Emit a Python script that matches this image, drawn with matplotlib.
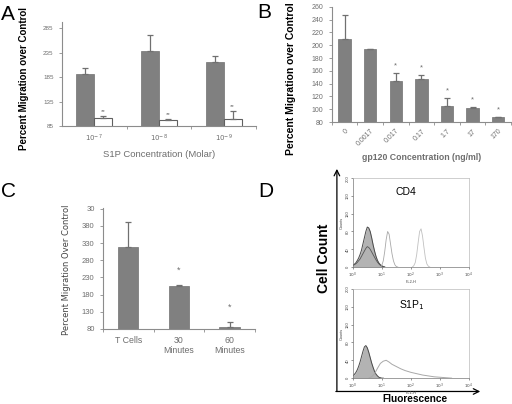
import numpy as np
import matplotlib.pyplot as plt

plt.rcParams['font.family'] = ['Liberation Sans', 'DejaVu Sans']

# ---- panel A data
a_conc = ['$10^{-7}$', '$10^{-8}$', '$10^{-9}$']
a_dark = [192, 238, 215]
a_dark_err = [12, 33, 13]
a_white = [102, 98, 100]
a_white_err = [3, 2, 15]
a_ticks = [85, 135, 185, 235, 285]

# ---- panel B data
b_conc = ['0', '0.0017', '0.017', '0.17', '1.7', '17', '170']
b_vals = [209, 194, 144, 147, 105, 102, 88]
b_err = [39, 0, 12, 6, 12, 1, 0]
b_star = [False, False, True, True, True, True, True]

# ---- panel C data
c_groups = ['T Cells', '30\nMinutes', '60\nMinutes']
c_vals = [318, 204, 85]
c_err = [74, 3, 14]
c_star = [False, True, True]
c_ticks = [80, 130, 180, 230, 280, 330, 380, 430]
c_ticklabels = ['80', '130', '180', '230', '280', '330', '380', '30']

# ---- panel D data (log10 fluorescence vs counts)
cd4_iso_x = [0.0, 0.05, 0.1, 0.15, 0.2, 0.25, 0.3, 0.35, 0.4, 0.45, 0.5, 0.55,
             0.6, 0.65, 0.7, 0.75, 0.8, 0.85, 0.9, 0.95, 1.0, 1.05, 1.1]
cd4_iso_y = [4, 6, 9, 14, 20, 28, 38, 52, 66, 80, 90, 88,
             80, 66, 50, 36, 24, 15, 9, 5, 3, 1, 0]
cd4_low_y = [3, 5, 7, 10, 14, 18, 24, 30, 36, 42, 46, 44,
             40, 34, 28, 22, 16, 11, 7, 4, 2, 1, 0]
cd4_p1_x = [0.95, 1.0, 1.05, 1.1, 1.15, 1.2, 1.25, 1.3, 1.35, 1.4, 1.45, 1.5, 1.55]
cd4_p1_y = [0, 4, 14, 35, 62, 80, 74, 52, 30, 14, 5, 1, 0]
cd4_p2_x = [2.05, 2.1, 2.15, 2.2, 2.25, 2.3, 2.35, 2.4, 2.45, 2.5, 2.55, 2.6, 2.65]
cd4_p2_y = [0, 3, 10, 28, 55, 80, 86, 70, 44, 20, 7, 2, 0]

s1p_iso_x = [0.0, 0.05, 0.1, 0.15, 0.2, 0.25, 0.3, 0.35, 0.4, 0.45, 0.5,
             0.55, 0.6, 0.65, 0.7, 0.75, 0.8, 0.85, 0.9, 0.95, 1.0, 1.05]
s1p_iso_y = [5, 8, 12, 18, 26, 36, 48, 60, 70, 73, 68,
             58, 46, 34, 24, 15, 9, 5, 2, 1, 0, 0]
s1p_pos_x = [0.55, 0.65, 0.75, 0.85, 0.95, 1.05, 1.15, 1.25, 1.35, 1.5,
             1.65, 1.8, 2.0, 2.2, 2.4, 2.6, 2.8, 3.0, 3.2, 3.4]
s1p_pos_y = [0, 3, 10, 22, 33, 38, 40, 36, 31, 26,
             21, 17, 13, 10, 7, 5, 3, 2, 1, 0]

BAR = '#808080'
AXC = '#8c8c8c'
TXT = '#6e6e6e'


def style_bar_axes(ax):
    for s in ['top', 'right']:
        ax.spines[s].set_visible(False)
    for s in ['left', 'bottom']:
        ax.spines[s].set_color(AXC)
        ax.spines[s].set_linewidth(0.8)
    ax.tick_params(axis='y', colors=AXC, labelcolor=TXT, length=2.5, width=0.6)
    ax.tick_params(axis='x', which='major', length=0, colors=TXT, labelcolor=TXT)
    ax.tick_params(axis='x', which='minor', length=2.5, width=0.6, color=AXC)


fig = plt.figure(figsize=(5.12, 4.04), dpi=100)

# ---------------- A
axA = fig.add_axes([0.121, 0.688, 0.379, 0.257])
xa = np.arange(len(a_conc))
w = 0.28
axA.bar(xa - w / 2, a_dark, w, color=BAR, edgecolor='#707070', lw=0.5)
axA.bar(xa + w / 2, a_white, w, color='white', edgecolor='#606060', lw=0.8)
axA.errorbar(xa - w / 2, a_dark, yerr=[np.zeros(3), a_dark_err], fmt='none',
             ecolor='#707070', elinewidth=0.9, capsize=2, capthick=0.9)
axA.errorbar(xa + w / 2, a_white, yerr=[np.zeros(3), a_white_err], fmt='none',
             ecolor='#707070', elinewidth=0.9, capsize=2, capthick=0.9)
for i in range(3):
    axA.text(xa[i] + w / 2, a_white[i] + a_white_err[i] + 9, '**', ha='center',
             va='center', fontsize=4.5, color=TXT)
axA.set_xlim(-0.5, 2.5)
axA.set_ylim(85, 297)
axA.set_yticks(a_ticks)
axA.set_yticklabels([str(t) for t in a_ticks], fontsize=4.5)
axA.set_xticks(xa)
axA.set_xticklabels(a_conc, fontsize=5)
axA.set_xticks([0.5, 1.5, 2.5], minor=True)
style_bar_axes(axA)
axA.tick_params(axis='x', pad=5)
axA.set_xlabel('S1P Concentration (Molar)', fontsize=6.8, color=TXT, labelpad=4)
fig.text(0.047, 0.805, 'Percent Migration over Control', rotation=90, fontsize=7,
         fontweight='bold', ha='center', va='center')

# ---------------- B
axB = fig.add_axes([0.648, 0.698, 0.350, 0.285])
xb = np.arange(len(b_conc))
axB.bar(xb, b_vals, 0.48, color=BAR, edgecolor='#707070', lw=0.5)
axB.errorbar(xb, b_vals, yerr=[np.zeros(len(b_err)), b_err], fmt='none',
             ecolor='#707070', elinewidth=0.9, capsize=2, capthick=0.9)
for i in range(len(b_vals)):
    if b_star[i]:
        axB.text(xb[i], b_vals[i] + b_err[i] + 11, '*', ha='center', va='center',
                 fontsize=5.5, color=TXT)
axB.set_xlim(-0.5, 6.5)
axB.set_ylim(80, 260)
axB.set_yticks(range(80, 261, 20))
axB.set_yticklabels([str(t) for t in range(80, 261, 20)], fontsize=5)
axB.set_xticks(xb)
axB.set_xticklabels(b_conc, fontsize=5, rotation=45, ha='right', rotation_mode='anchor')
axB.set_xticks(np.arange(-0.5, 7, 1), minor=True)
style_bar_axes(axB)
axB.tick_params(axis='x', pad=4)
axB.set_xlabel('gp120 Concentration (ng/ml)', fontsize=6.3, color=TXT,
               fontweight='bold', labelpad=4)
fig.text(0.568, 0.805, 'Percent Migration over Control', rotation=90, fontsize=7.5,
         fontweight='bold', ha='center', va='center')

# ---------------- C
axC = fig.add_axes([0.201, 0.186, 0.297, 0.299])
xc = np.arange(len(c_groups))
axC.bar(xc, c_vals, 0.4, color=BAR, edgecolor='#707070', lw=0.5)
axC.errorbar(xc, c_vals, yerr=[np.zeros(3), c_err], fmt='none',
             ecolor='#707070', elinewidth=0.9, capsize=2, capthick=0.9)
for i in range(3):
    if c_star[i]:
        axC.text(xc[i], c_vals[i] + c_err[i] + 45, '*', ha='center', va='center',
                 fontsize=6.5, color=TXT)
axC.set_xlim(-0.5, 2.5)
axC.set_ylim(80, 432)
axC.set_yticks(c_ticks)
axC.set_yticklabels(c_ticklabels, fontsize=5.5)
axC.set_xticks(xc)
axC.set_xticklabels(c_groups, fontsize=6.3, linespacing=1.1)
axC.set_xticks([-0.5, 0.5, 1.5, 2.5], minor=True)
style_bar_axes(axC)
axC.tick_params(axis='x', pad=5)
fig.text(0.129, 0.332, 'Percent Migration Over Control', rotation=90, fontsize=6,
         family=['Liberation Sans Narrow', 'DejaVu Sans Condensed', 'DejaVu Sans'],
         color='#444444', ha='center', va='center')

# ---------------- D
def style_flow(ax, xlabel):
    ax.set_xlim(0, 4)
    ax.set_ylim(0, 200)
    ax.set_xticks([0, 1, 2, 3, 4])
    ax.set_xticklabels(['$10^0$', '$10^1$', '$10^2$', '$10^3$', '$10^4$'], fontsize=3)
    ax.set_yticks([0, 40, 80, 120, 160, 200])
    ax.set_yticklabels(['0', '40', '80', '120', '160', '200'], fontsize=3, rotation=90,
                       va='center')
    ax.tick_params(length=1.5, width=0.4, pad=0.8, colors='#444444')
    for s in ['top', 'right']:
        ax.spines[s].set_color('#bbbbbb')
        ax.spines[s].set_linewidth(0.5)
    for s in ['left', 'bottom']:
        ax.spines[s].set_color('#777777')
        ax.spines[s].set_linewidth(0.5)
    ax.set_xlabel(xlabel, fontsize=2.8, labelpad=0, color='#444444')
    ax.set_ylabel('Counts', fontsize=2.8, labelpad=1, color='#444444')


axD1 = fig.add_axes([0.689, 0.339, 0.227, 0.220])
axD1.fill_between(cd4_iso_x, cd4_iso_y, color='#b3b3b3', lw=0)
axD1.plot(cd4_iso_x, cd4_iso_y, color='#4a4a4a', lw=0.7)
axD1.plot(cd4_iso_x, cd4_low_y, color='#555555', lw=0.6)
axD1.plot(cd4_p1_x, cd4_p1_y, color='#a8a8a8', lw=0.6)
axD1.plot(cd4_p2_x, cd4_p2_y, color='#c0c0c0', lw=0.6)
style_flow(axD1, 'FL2-H')
axD1.text(0.46, 0.84, 'CD4', transform=axD1.transAxes, fontsize=7.5,
          ha='center', va='center')

axD2 = fig.add_axes([0.689, 0.064, 0.227, 0.221])
axD2.fill_between(s1p_iso_x, s1p_iso_y, color='#b3b3b3', lw=0)
axD2.plot(s1p_iso_x, s1p_iso_y, color='#4a4a4a', lw=0.7)
axD2.plot(s1p_pos_x, s1p_pos_y, color='#a8a8a8', lw=0.7)
style_flow(axD2, 'FL1-H')
axD2.text(0.51, 0.82, 'S1P$_1$', transform=axD2.transAxes, fontsize=7.5,
          ha='center', va='center')

# outer arrows for D
ov = fig.add_axes([0, 0, 1, 1], zorder=-1)
ov.axis('off')
ov.set_xlim(0, 1)
ov.set_ylim(0, 1)
ov.annotate('', xy=(0.658, 0.582), xytext=(0.658, 0.031),
            arrowprops=dict(arrowstyle='->', lw=0.9, color='k', shrinkA=0, shrinkB=0))
ov.annotate('', xy=(0.938, 0.031), xytext=(0.656, 0.031),
            arrowprops=dict(arrowstyle='->', lw=0.9, color='k', shrinkA=0, shrinkB=0))
fig.text(0.633, 0.361, 'Cell Count', rotation=90, fontsize=10, fontweight='bold',
         ha='center', va='center')
fig.text(0.81, 0.012, 'Fluorescence', fontsize=7.3, fontweight='bold',
         ha='center', va='center')

# panel letters
fig.text(0.002, 0.950, 'A', fontsize=15)
fig.text(0.503, 0.955, 'B', fontsize=15)
fig.text(0.002, 0.512, 'C', fontsize=15)
fig.text(0.504, 0.512, 'D', fontsize=15)

fig.savefig('out.png', dpi=100)
